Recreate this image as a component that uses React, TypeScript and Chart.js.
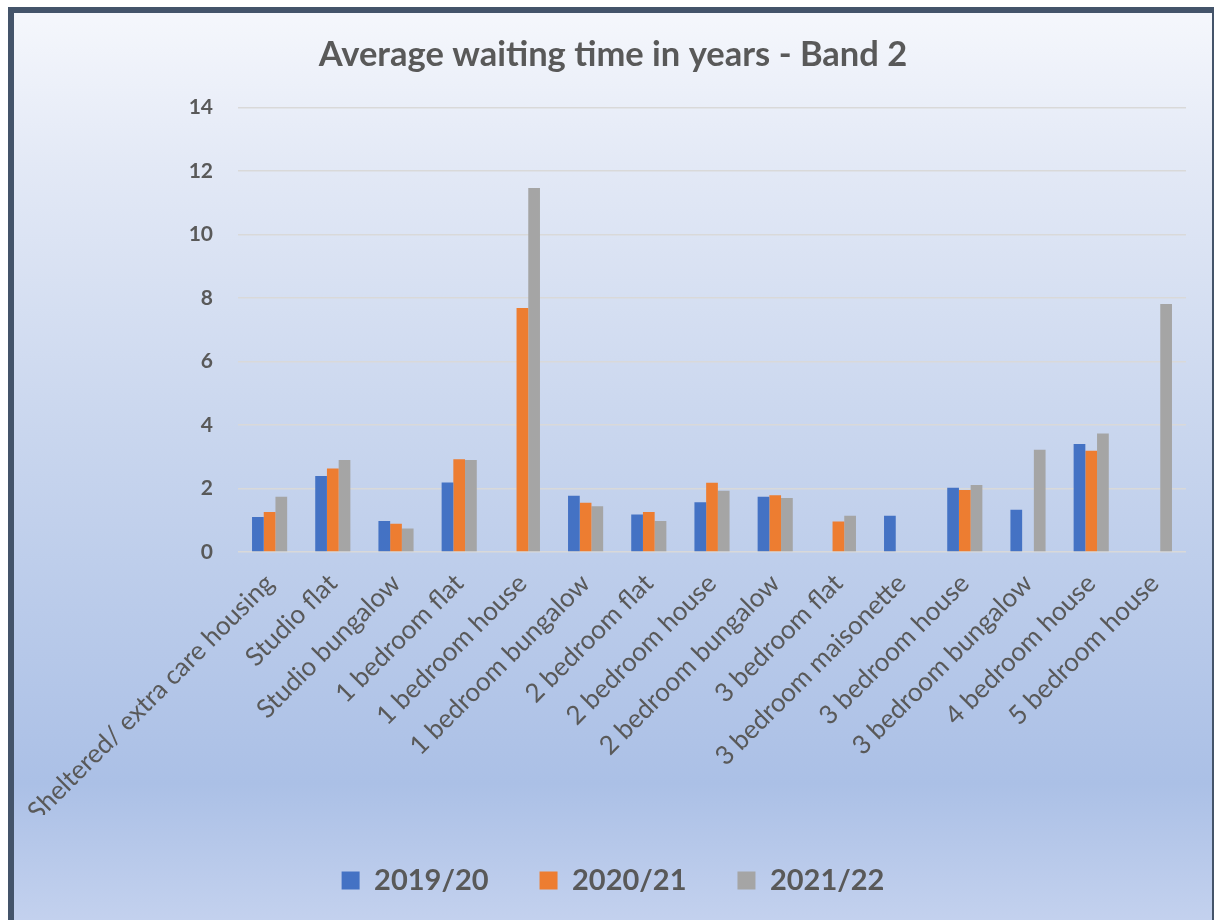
import React, { useEffect, useRef } from "react";
import { Chart, registerables } from "chart.js";

Chart.register(...registerables);

const categories = [
  "Sheltered/ extra care housing",
  "Studio flat",
  "Studio bungalow",
  "1 bedroom flat",
  "1 bedroom house",
  "1 bedroom bungalow",
  "2 bedroom flat",
  "2 bedroom house",
  "2 bedroom bungalow",
  "3 bedroom flat",
  "3 bedroom maisonette",
  "3 bedroom house",
  "3 bedroom bungalow",
  "4 bedroom house",
  "5 bedroom house",
];

const series2019 = [1.1, 2.39, 0.98, 2.19, null, 1.77, 1.18, 1.57, 1.74, null, 1.14, 2.02, 1.33, 3.4, null];
const series2020 = [1.26, 2.63, 0.89, 2.92, 7.68, 1.55, 1.26, 2.18, 1.79, 0.96, null, 1.95, null, 3.19, null];
const series2021 = [1.74, 2.9, 0.74, 2.9, 11.46, 1.44, 0.98, 1.93, 1.7, 1.14, null, 2.11, 3.22, 3.73, 7.81];

const seriesLabels = ["2019/20", "2020/21", "2021/22"];
const seriesColors = ["#4472C4", "#ED7D31", "#A5A5A5"];

const TEXT = "#595959";
const FONT = "Lato, 'Noto Sans', sans-serif";

export default function App() {
  const ref = useRef<HTMLCanvasElement | null>(null);

  useEffect(() => {
    if (!ref.current) return;
    const data = [series2019, series2020, series2021];
    const chart = new Chart(ref.current, {
      type: "bar",
      data: {
        labels: categories,
        datasets: seriesLabels.map((l, i) => ({
          label: l,
          data: data[i] as any,
          backgroundColor: seriesColors[i],
          borderWidth: 0,
          categoryPercentage: 0.556,
          barPercentage: 1,
        })),
      },
      options: {
        animation: false,
        responsive: false,
        maintainAspectRatio: false,
        layout: { padding: { left: 0, right: 0, top: 0, bottom: 88 } },
        plugins: {
          title: {
            display: true,
            text: "Average waiting time in years - Band 2",
            color: TEXT,
            font: { family: FONT, size: 34.5, weight: "bold" },
            padding: { top: 21, bottom: 32 },
          },
          legend: {
            position: "bottom",
            labels: {
              color: TEXT,
              font: { family: FONT, size: 29, weight: "bold" },
              boxWidth: 18,
              boxHeight: 18,
              padding: 51,
            },
          },
          tooltip: { enabled: false },
        },
        scales: {
          x: {
            grid: { display: false },
            border: { display: false },
            ticks: {
              color: TEXT,
              font: { family: FONT, size: 26 },
              minRotation: 45,
              maxRotation: 45,
              autoSkip: false,
              padding: 8,
            },
            afterFit: (s: any) => {
              s.height = 263;
            },
          },
          y: {
            min: 0,
            max: 14,
            ticks: {
              stepSize: 2,
              color: TEXT,
              font: { family: FONT, size: 21, weight: "bold" },
              padding: 25,
            },
            grid: { color: "#D9D9D9", lineWidth: 1.5, drawTicks: false },
            border: { display: false },
            afterFit: (s: any) => {
              s.width = 224;
            },
          },
          yRight: {
            position: "right",
            min: 0,
            max: 14,
            ticks: { display: false },
            grid: { display: false, drawTicks: false },
            border: { display: false },
            afterFit: (s: any) => {
              s.width = 26;
            },
          },
        },
      },
    });
    return () => chart.destroy();
  }, []);

  return (
    <div
      style={{
        position: "fixed",
        left: 8,
        top: 7,
        width: 1198,
        height: 1000,
        borderTop: "6px solid #44546A",
        borderLeft: "6px solid #44546A",
        borderRight: "6px solid #44546A",
        overflow: "hidden",
        background:
          "linear-gradient(to bottom, #F5F7FC 0px, #E3E9F6 150px, #C9D6EE 420px, #ABC0E6 770px, #C3D1EE 907px, #C6D3EE 1000px)",
      }}
    >
      <canvas ref={ref} width={1198} height={980} style={{ display: "block" }} />
    </div>
  );
}
